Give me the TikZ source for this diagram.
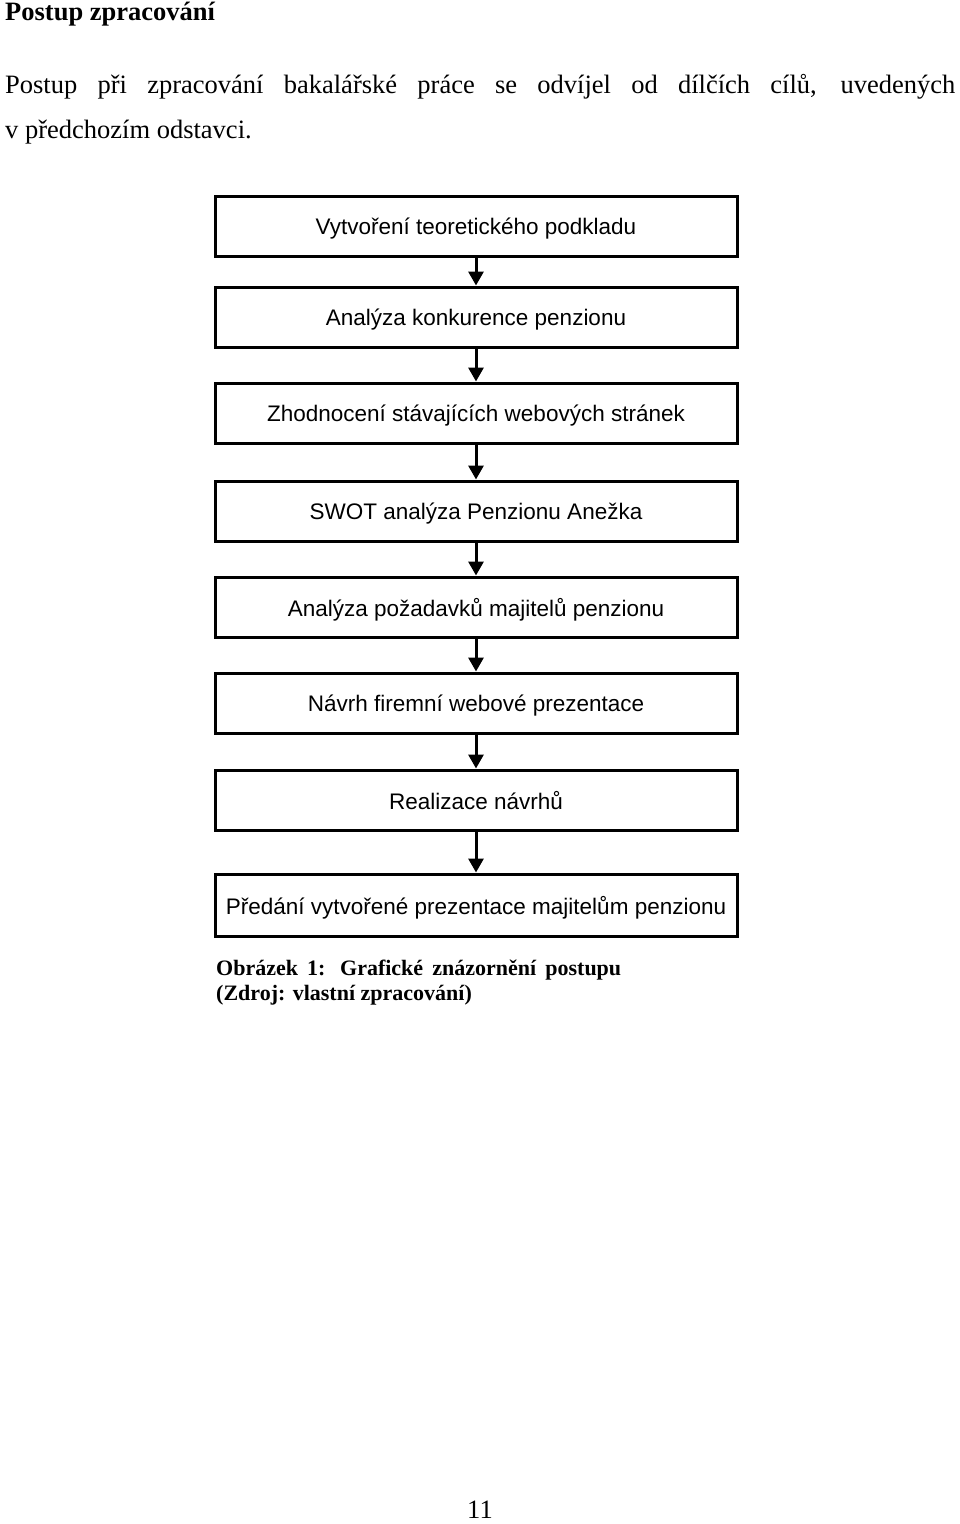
\documentclass[tikz,border=0pt]{standalone}
\usepackage{fontspec}
\setmainfont{Liberation Serif}
\newfontfamily\boxfont{Liberation Sans}
\usetikzlibrary{arrows.meta}
\newcommand*{\boxw }{522pt}
\newcommand*{\boxh }{60pt}
\newcommand*{\midx }{476}
\newcommand*{\txtsz}{\fontsize{26.5}{30}\selectfont}
\newcommand*{\capsz}{\fontsize{22}{26}\selectfont}
\newcommand*{\boxsz}{\fontsize{22.5}{26}\selectfont}

\begin{document}
\begin{tikzpicture}[x=1pt, y=-1pt,
    stepbox/.style = {draw, line width=3pt, minimum width=\boxw, minimum height=\boxh,
                      inner sep=0pt, text depth=0pt, font=\boxfont\boxsz},
    flow/.style    = {line width=3pt, -{Triangle[length=14pt,width=15pt]}}]
    \useasboundingbox (0,0) rectangle (960,1524);
    % text above the figure
    \node [anchor=base west, inner sep=0pt, font=\txtsz\bfseries] (head) at (5,20) {Postup zpracování};
    \node [anchor=base west, inner sep=0pt, font=\txtsz] (par1) at (5,93)
        {\makebox[950pt][s]{Postup při zpracování bakalářské práce se odvíjel od dílčích cílů, uvedených}};
    \node [anchor=base west, inner sep=0pt, font=\txtsz] (par2) at (5,138) {v předchozím odstavci.};
    % the steps
    \node [stepbox] (s1) at (\midx,226) {Vytvoření teoretického podkladu};
    \node [stepbox] (s2) at (\midx,317) {Analýza konkurence penzionu};
    \node [stepbox] (s3) at (\midx,413) {Zhodnocení stávajících webových stránek};
    \node [stepbox] (s4) at (\midx,511) {SWOT analýza Penzionu Anežka};
    \node [stepbox] (s5) at (\midx,607) {Analýza požadavků majitelů penzionu};
    \node [stepbox] (s6) at (\midx,703) {Návrh firemní webové prezentace};
    \node [stepbox] (s7) at (\midx,800) {Realizace návrhů};
    \node [stepbox, minimum height=62pt] (s8) at (\midx,905) {Předání vytvořené prezentace majitelům penzionu};
    \foreach \a/\b in {s1/s2, s2/s3, s3/s4, s4/s5, s5/s6, s6/s7, s7/s8}
        \draw [flow] (\a.south) -- (\b.north);
    % caption and page number
    \node [anchor=base west, inner sep=0pt, font=\capsz\bfseries] (cap1) at (216,975)
        {\makebox[405pt][s]{Obrázek 1: Grafické znázornění postupu}};
    \node [anchor=base west, inner sep=0pt, font=\capsz\bfseries] (cap2) at (216,1000) {(Zdroj: vlastní zpracování)};
    \node [anchor=base, inner sep=0pt, font=\txtsz] (page) at (480,1518) {11};
\end{tikzpicture}
\end{document}
